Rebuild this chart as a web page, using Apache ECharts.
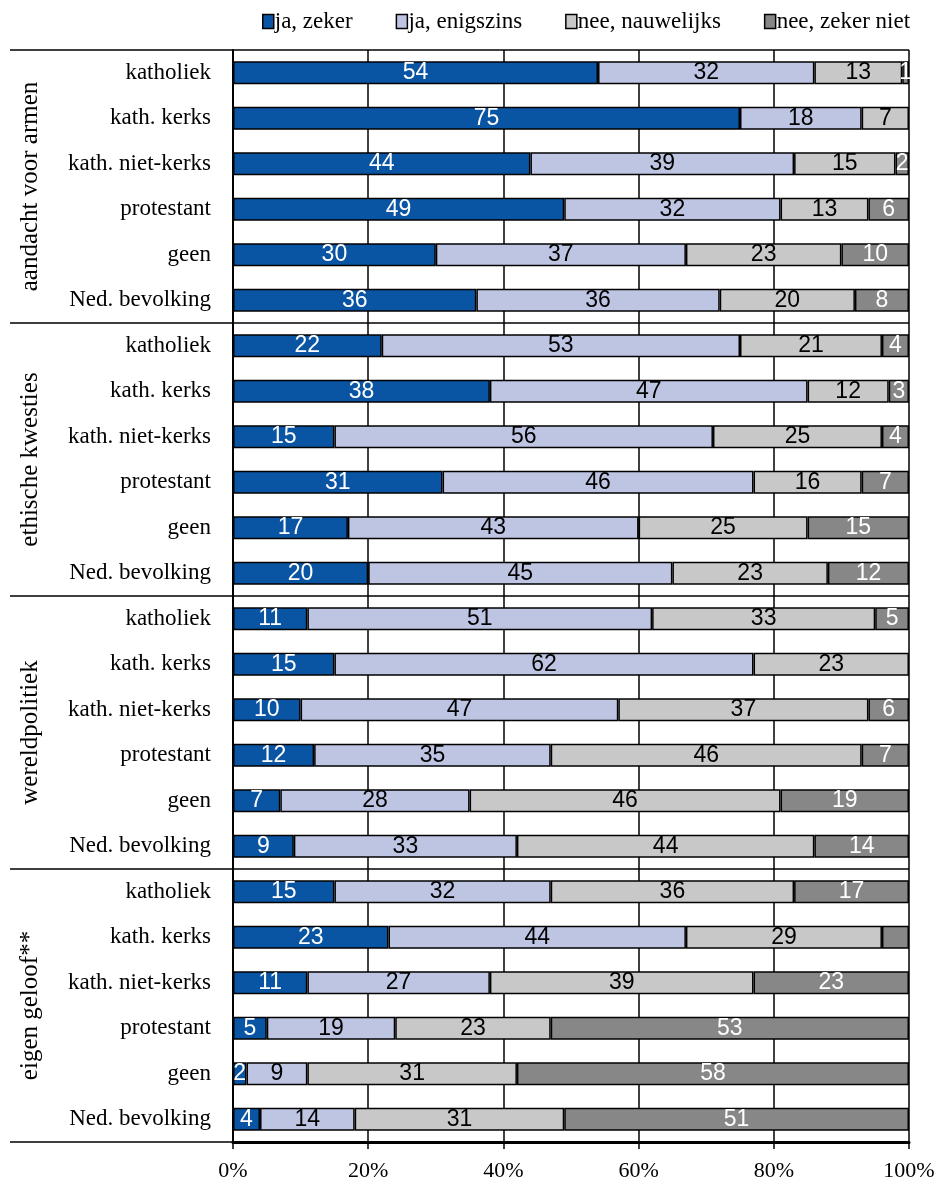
<!DOCTYPE html>
<html><head><meta charset="utf-8">
<script src="https://cdn.jsdelivr.net/npm/echarts@6/dist/echarts.min.js"></script>
<style>html,body{margin:0;padding:0;background:#fff}#c{width:938px;height:1185px}</style>
</head><body><div id="c"></div>
<script>
const groups = ['aandacht voor armen', 'ethische kwesties', 'wereldpolitiek', 'eigen geloof**'];
const subgroups = ['katholiek', 'kath. kerks', 'kath. niet-kerks', 'protestant', 'geen', 'Ned. bevolking'];
const seriesNames = ['ja, zeker', 'ja, enigszins', 'nee, nauwelijks', 'nee, zeker niet'];
const jaZeker       = [54, 75, 44, 49, 30, 36, 22, 38, 15, 31, 17, 20, 11, 15, 10, 12, 7, 9, 15, 23, 11, 5, 2, 4];
const jaEnigszins   = [32, 18, 39, 32, 37, 36, 53, 47, 56, 46, 43, 45, 51, 62, 47, 35, 28, 33, 32, 44, 27, 19, 9, 14];
const neeNauwelijks = [13, 7, 15, 13, 23, 20, 21, 12, 25, 16, 25, 23, 33, 23, 37, 46, 46, 44, 36, 29, 39, 23, 31, 31];
const neeZekerNiet  = [1, 0, 2, 6, 10, 8, 4, 3, 4, 7, 15, 12, 5, 0, 6, 7, 19, 14, 17, 4, 23, 53, 58, 51];
const xTicks = [0, 20, 40, 60, 80, 100];
// points whose value label is not printed in the source: [seriesIndex, rowIndex]
const hiddenLabels = [[3, 19]];

const categories = [];
groups.forEach((g, gi) => subgroups.forEach(s => categories.push(s + '\u200b'.repeat(gi))));
const values = [jaZeker, jaEnigszins, neeNauwelijks, neeZekerNiet];
const colors = ['#0A55A3', '#BEC5E3', '#C8C8C8', '#878787'];
const labelColors = ['#fff', '#000', '#000', '#fff'];

const serif = 'Liberation Serif';
const sans = 'Liberation Sans';

const series = values.map((arr, si) => ({
  name: seriesNames[si],
  type: 'bar',
  stack: 'total',
  barWidth: 23,
  itemStyle: { color: colors[si], borderColor: '#000', borderWidth: 1.5 },
  label: {
    show: true, position: 'inside', color: labelColors[si],
    fontFamily: sans, fontSize: 23, formatter: p => p.value
  },
  data: arr.map((v, ri) => {
    if (!v) return null;
    const hide = hiddenLabels.some(h => h[0] === si && h[1] === ri);
    return hide ? { value: v, label: { show: false } } : v;
  })
}));

const chart = echarts.init(document.getElementById('c'), null, { renderer: 'canvas' });
chart.setOption({
  animation: false,
  backgroundColor: '#fff',
  legend: {
    top: 5, left: 257, itemWidth: 11, itemHeight: 14, itemGap: 43,
    icon: 'rect',
    itemStyle: { borderColor: '#000', borderWidth: 1.5 },
    textStyle: { fontFamily: serif, fontSize: 23, color: '#000', padding: [0, 0, 0, -4] },
    data: seriesNames
  },
  grid: { left: 233, right: 29, top: 50, bottom: 43, containLabel: false },
  xAxis: {
    type: 'value', min: 0, max: 100, interval: 20,
    axisLine: { show: true, lineStyle: { color: '#000', width: 3 } },
    axisTick: { show: true, length: 7, lineStyle: { color: '#000', width: 1.5 } },
    axisLabel: { formatter: v => xTicks.includes(v) ? v + '%' : '', fontFamily: serif, fontSize: 22, color: '#000', margin: 18 },
    splitLine: { show: true, lineStyle: { color: '#000', width: 1.5 } }
  },
  yAxis: [{
    type: 'category', inverse: true, data: categories,
    axisLine: { show: true, lineStyle: { color: '#000', width: 2 } },
    axisTick: { show: false },
    axisLabel: { formatter: v => v.replace(/\u200b/g, ''), fontFamily: serif, fontSize: 23, color: '#000', margin: 22 },
    splitLine: { show: false }
  }, {
    type: 'category', inverse: true, data: groups, position: 'left',
    axisLine: { show: false },
    axisTick: { show: true, length: 223, lineStyle: { color: '#000', width: 1.5 } },
    axisLabel: { rotate: 90, fontFamily: serif, fontSize: 25, color: '#000', margin: 190 },
    splitLine: { show: true, lineStyle: { color: '#000', width: 1.5 } }
  }],
  series: series
});
</script></body></html>
